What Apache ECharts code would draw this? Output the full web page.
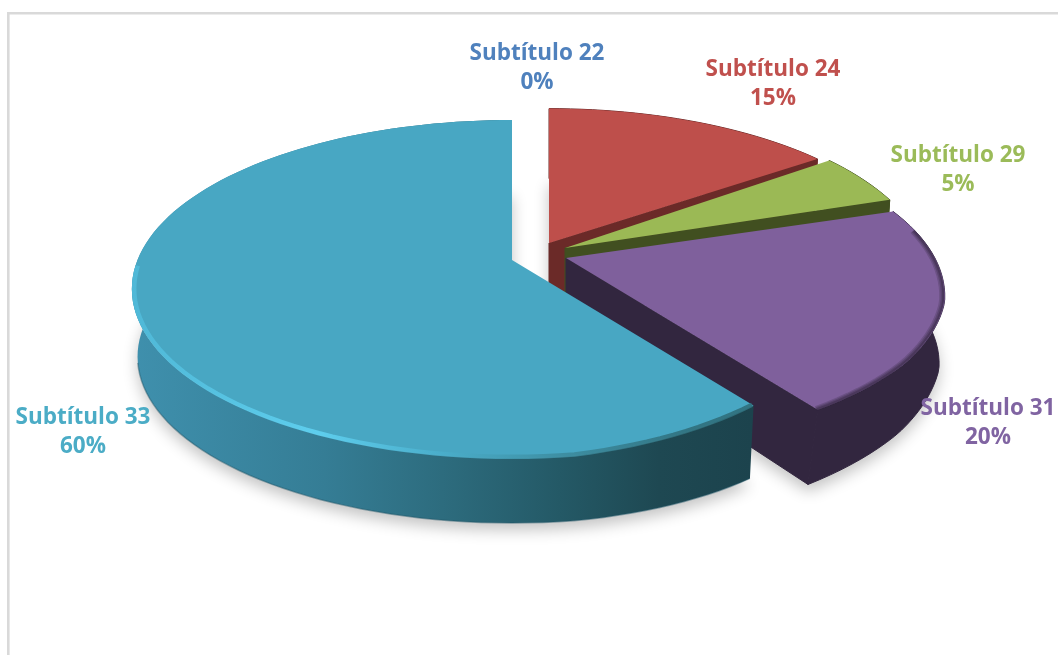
<!DOCTYPE html>
<html><head><meta charset="utf-8">
<style>html,body{margin:0;padding:0;background:#fff}#c{width:1058px;height:655px}</style>
<script src="https://cdn.jsdelivr.net/npm/echarts@6/dist/echarts.min.js"></script>
</head><body><div id="c"></div>
<script>
const categories = ['Subtítulo 22','Subtítulo 24','Subtítulo 29','Subtítulo 31','Subtítulo 33'];
const values = [0,15,5,20,60];

// look
const topColors  = ['#4F81BD','#BE4F4B','#9BB955','#7F609C','#48A7C3'];
const textColors = ['#4F81BD','#C0504D','#9BBB59','#8064A2','#4BACC6'];
const wallColors = ['#333','#6B2A28','#414F20','#32263F','#2f7285'];
// slice apex, and label centre, in px
const apexX = [549,549,565,566,512];
const apexY = [243,243,248,258,260];
const scaleX= [0.975,0.975,0.96,1,1];
const scaleY= [0.96,0.96,1,1,1];
const labelX = [537,773,958,988,83];
const labelY = [68,84,170,423.5,432];
// outline corrections: [angle, radial factor]
const outline = {3:[[72,0.967],[105,1],[125,1],[144,0.985]],4:[[144,0.945],[172,1],[360,1]]};
// extra wall depth and bottom-edge inset: [angle, px]
const extraDepth = {3:[[105,0],[144,9]],4:[[144,7],[172,0]]};
const insetX = {3:[[105,0],[144,6]]};

const RX=374.5, RY=164, K=0.1716, DEPTH=68, BOTTOM=0.985;
const total = values.reduce((a,b)=>a+b,0);
const FONT = 'bold 22.5px "Open Sans", sans-serif';

function lerpTable(tb,deg,dflt){
  if(!tb) return dflt;
  if(deg<=tb[0][0]) return tb[0][1];
  for(let j=1;j<tb.length;j++){
    if(deg<=tb[j][0]){const p=(deg-tb[j-1][0])/(tb[j][0]-tb[j-1][0]);return tb[j-1][1]+(tb[j][1]-tb[j-1][1])*p;}
  }
  return tb[tb.length-1][1];
}
function proj(i,deg,s,dy){
  const t=deg*Math.PI/180, u=Math.sin(t), v=-Math.cos(t), w=1/(1-K*v);
  const f=lerpTable(outline[i],deg,1)*s;
  let ex=0, ix=0;
  if(dy>=DEPTH && s>0){ ex=lerpTable(extraDepth[i],deg,0); ix=lerpTable(insetX[i],deg,0); }
  return [apexX[i]+RX*scaleX[i]*f*u*w-ix, apexY[i]+RY*scaleY[i]*f*v*w+dy+ex];
}
function arc(i,a0,a1,s,dy){
  const n=Math.max(2,Math.ceil(Math.abs(a1-a0)/2)), out=[];
  for(let j=0;j<=n;j++) out.push(proj(i,a0+(a1-a0)*j/n,s,dy));
  return out;
}
function range(i){
  let sum=0; for(let j=0;j<i;j++) sum+=values[j];
  return [sum/total*360,(sum+values[i])/total*360];
}
const blueWall={type:'linear',global:true,x:132,y:0,x2:752,y2:0,colorStops:[
  {offset:0,color:'#3F90AD'},{offset:0.31,color:'#357D95'},{offset:0.5,color:'#2D6C7E'},
  {offset:0.69,color:'#245966'},{offset:0.85,color:'#1E4852'},{offset:1,color:'#1C434D'}]};
const blueRim={type:'linear',global:true,x:132,y:0,x2:752,y2:0,colorStops:[
  {offset:0,color:'#50BAD9'},{offset:0.3,color:'#60D2F2'},{offset:0.5,color:'#4AAECB'},
  {offset:0.7,color:'#3C8B9E'},{offset:0.9,color:'#2F6F7C'},{offset:1,color:'#2F6F7C'}]};

function shadowItem(params,api){
  const i=params.dataIndex, v=api.value(0);
  if(!v) return {type:'group',children:[]};
  const [a0,a1]=range(i);
  const pts=[proj(i,0,0,DEPTH)].concat(arc(i,a0,a1,BOTTOM,DEPTH));
  return {type:'polygon',shape:{points:pts},style:{fill:'#ddd',shadowBlur:15,shadowColor:'rgba(0,0,0,0.24)',shadowOffsetX:0,shadowOffsetY:7}};
}
function sliceItem(params,api){
  const i=params.dataIndex, v=api.value(0), children=[];
  if(v){
    const [a0,a1]=range(i);
    const wallFill = i===4?blueWall:wallColors[i];
    children.push({type:'polygon',shape:{points:arc(i,a0,a1,1,0).concat(arc(i,a1,a0,BOTTOM,DEPTH))},style:{fill:wallFill,stroke:i===4?null:wallColors[i],lineWidth:1}});
    children.push({type:'polygon',shape:{points:[proj(i,a1,0,0),proj(i,a1,1,0),proj(i,a1,BOTTOM,DEPTH),proj(i,a1,0,DEPTH)]},style:{fill:wallColors[i],stroke:i===4?null:wallColors[i],lineWidth:1}});
    children.push({type:'polygon',shape:{points:[proj(i,a0,0,0)].concat(arc(i,a0,a1,1,0))},style:{fill:topColors[i]}});
    if(i===4){
      children.push({type:'polyline',shape:{points:arc(i,a0,268,0.994,0)},style:{fill:null,stroke:blueRim,lineWidth:4.5,opacity:0.9}});
      children.push({type:'polyline',shape:{points:arc(i,a0,258,BOTTOM,DEPTH)},style:{fill:null,stroke:'#1F5566',lineWidth:1.5,opacity:0.45}});
    } else if(i===3){
      [[0.992,5,0.25],[0.994,3.5,0.3],[0.996,2,0.4]].forEach(r=>{
        children.push({type:'polyline',shape:{points:arc(i,a0+8,a1,r[0],0)},style:{fill:null,stroke:'#32263F',lineWidth:r[1],opacity:r[2]}});
      });
    }
  }
  children.push({type:'text',z2:50,style:{text:categories[i]+'\n'+Math.round(v/total*100)+'%',x:labelX[i],y:labelY[i],align:'center',verticalAlign:'middle',font:FONT,lineHeight:29,fill:textColors[i]}});
  return {type:'group',children};
}
const seriesData = values.map((v,i)=>({name:categories[i],value:[v]}));
const chart=echarts.init(document.getElementById('c'),null,{renderer:'canvas'});
chart.setOption({
  animation:false,
  backgroundColor:'#fff',
  graphic:[
    {type:'rect',silent:true,shape:{x:7,y:12,width:1051,height:2.6},style:{fill:'#D9D9D9'}},
    {type:'rect',silent:true,shape:{x:7,y:12,width:2.6,height:643},style:{fill:'#D9D9D9'}}
  ],
  series:[
    {type:'custom',coordinateSystem:'none',z:1,silent:true,data:seriesData,renderItem:shadowItem},
    {type:'custom',coordinateSystem:'none',z:2,silent:true,data:seriesData,renderItem:sliceItem}
  ]
});
</script></body></html>
